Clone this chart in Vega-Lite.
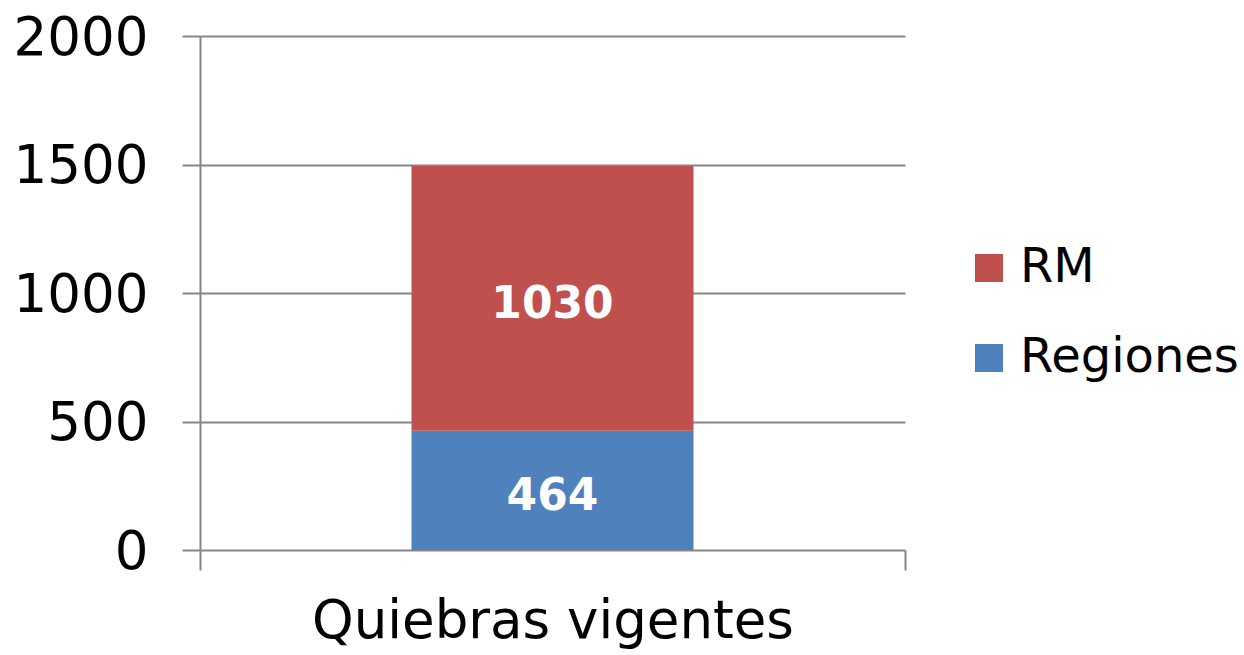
{
  "$schema": "https://vega.github.io/schema/vega-lite/v6.json",
  "width": 705,
  "height": 514,
  "autosize": {"type": "none"},
  "padding": {"left": 200, "top": 36, "right": 339, "bottom": 105},
  "background": "white",
  "config": {
    "view": {"stroke": null},
    "font": "DejaVu Sans"
  },
  "data": {
    "values": [
      {"categoria": "Quiebras vigentes", "serie": "Regiones", "valor": 464},
      {"categoria": "Quiebras vigentes", "serie": "RM", "valor": 1030}
    ]
  },
  "transform": [
    {"calculate": "datum.serie === 'Regiones' ? 0 : 1", "as": "orden"},
    {"stack": "valor", "groupby": ["categoria"], "sort": [{"field": "orden", "order": "ascending"}], "as": ["v0", "v1"]},
    {"calculate": "(datum.v0 + datum.v1) / 2", "as": "vmid"}
  ],
  "encoding": {
    "x": {
      "field": "categoria",
      "type": "nominal",
      "scale": {"paddingInner": 0, "paddingOuter": 0},
      "axis": {
        "title": null,
        "labelAngle": 0,
        "labelFont": "DejaVu Sans",
        "labelFontSize": 53,
        "labelColor": "black",
        "labelPadding": 25,
        "labelLimit": 0,
        "tickBand": "extent",
        "tickSize": 20,
        "tickColor": "#868686",
        "tickWidth": 2,
        "domain": false,
        "grid": false
      }
    }
  },
  "layer": [
    {
      "mark": {"type": "bar", "width": {"band": 0.4}},
      "encoding": {
        "y": {
          "field": "v0",
          "type": "quantitative",
          "scale": {"domain": [0, 2000]},
          "axis": {
            "title": null,
            "values": [0, 500, 1000, 1500, 2000],
            "format": "d",
            "labelFont": "DejaVu Sans",
            "labelFontSize": 53,
            "labelColor": "black",
            "labelPadding": 34,
            "labelLimit": 0,
            "labelOffset": 2,
            "tickSize": 18,
            "tickColor": "#868686",
            "tickWidth": 2,
            "domainColor": "#868686",
            "domainWidth": 2,
            "gridColor": "#868686",
            "gridWidth": 2
          }
        },
        "y2": {"field": "v1"},
        "color": {
          "field": "serie",
          "type": "nominal",
          "scale": {"domain": ["RM", "Regiones"], "range": ["#C0504D", "#4F81BD"]},
          "legend": {
            "title": null,
            "orient": "none",
            "legendX": 765,
            "legendY": 208,
            "symbolType": "square",
            "symbolSize": 784,
            "symbolStrokeWidth": 0,
            "symbolOpacity": 1,
            "labelFont": "DejaVu Sans",
            "labelFontSize": 48,
            "labelColor": "black",
            "labelOffset": 7,
            "labelLimit": 0,
            "rowPadding": 42
          }
        }
      }
    },
    {
      "mark": {"type": "text", "font": "DejaVu Sans", "fontWeight": "bold", "fontSize": 44, "color": "white", "baseline": "middle", "align": "center", "dy": 7},
      "encoding": {
        "y": {"field": "vmid", "type": "quantitative"},
        "text": {"field": "valor", "type": "quantitative"}
      }
    }
  ]
}
